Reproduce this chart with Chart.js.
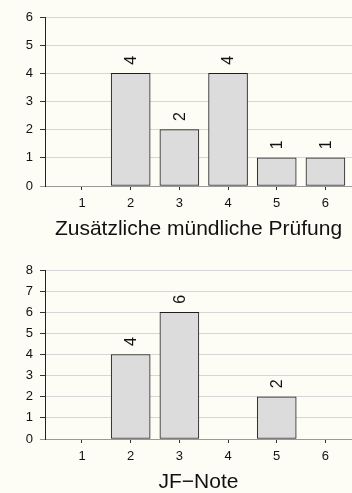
<!DOCTYPE html>
<html>
<head>
<meta charset="utf-8">
<script src="https://cdn.jsdelivr.net/npm/chart.js@4/dist/chart.umd.min.js"></script>
<style>
  html, body { margin: 0; padding: 0; background: #fdfdf6; }
  body { width: 352px; height: 493px; position: relative; overflow: hidden; }
  .box { position: absolute; left: 0; width: 352px; }
  #box-top { top: 0; height: 242px; }
  #box-bottom { top: 246px; height: 249px; }
</style>
</head>
<body>
<div class="box" id="box-top"><canvas id="chart-top"></canvas></div>
<div class="box" id="box-bottom"><canvas id="chart-bottom"></canvas></div>
<script>
// Grades 1..6 and how often each occurred
const grades = [1, 2, 3, 4, 5, 6];
const oralCounts = [null, 4, 2, 4, 1, 1];
const jfCounts = [null, 4, 6, null, 2, null];
const oralTicks = [0, 1, 2, 3, 4, 5, 6];
const jfTicks = [0, 1, 2, 3, 4, 5, 6, 7, 8];

const FONT = "'Liberation Sans', Arial, Helvetica, sans-serif";

// Rotated count above each bar
const countLabels = {
  id: 'countLabels',
  afterDatasetsDraw(chart) {
    const ctx = chart.ctx;
    const xs = chart.scales.x;
    const ys = chart.scales.y;
    chart.data.datasets[0].data.forEach(p => {
      if (p.y == null) return;
      const px = xs.getPixelForValue(p.x);
      const py = ys.getPixelForValue(p.y) - 13;
      ctx.save();
      ctx.translate(px, py);
      ctx.rotate(-Math.PI / 2);
      ctx.font = '16px ' + FONT;
      ctx.fillStyle = '#111';
      ctx.textAlign = 'center';
      ctx.textBaseline = 'middle';
      ctx.fillText(String(p.y), 0, 1);
      ctx.restore();
    });
  }
};

function makeChart(canvasId, counts, yTicks, title, padTop) {
  const points = grades.map((g, i) => ({ x: g, y: counts[i] }));
  const yMax = yTicks[yTicks.length - 1];
  return new Chart(document.getElementById(canvasId), {
    type: 'bar',
    data: {
      datasets: [{
        data: points,
        backgroundColor: '#dcdcdc',
        borderColor: '#1e1e1e',
        borderWidth: 1,
        borderSkipped: false,
        barThickness: 39
      }]
    },
    plugins: [countLabels],
    options: {
      responsive: true,
      maintainAspectRatio: false,
      animation: false,
      layout: { padding: { top: padTop, left: 0, right: 0, bottom: 0 } },
      plugins: {
        legend: { display: false },
        tooltip: { enabled: false }
      },
      scales: {
        x: {
          type: 'linear',
          offset: false,
          min: 0.24,
          max: 6.546,
          afterBuildTicks: scale => {
            scale.ticks = grades.map(g => ({ value: g }));
          },
          afterFit: scale => { scale.height = 56; },
          grid: {
            offset: false,
            drawOnChartArea: false,
            drawTicks: true,
            tickLength: 4,
            tickColor: '#333'
          },
          border: { display: true, color: '#999', width: 1 },
          ticks: {
            padding: 6,
            color: '#111',
            font: { family: FONT, size: 13 }
          },
          title: {
            display: true,
            text: title,
            color: '#111',
            font: { family: FONT, size: 21 },
            padding: { top: 2, bottom: 0 }
          }
        },
        y: {
          min: 0,
          max: yMax,
          afterBuildTicks: scale => {
            scale.ticks = yTicks.map(v => ({ value: v }));
          },
          afterFit: scale => { scale.width = 45; },
          grid: {
            color: ctx => (ctx.tick && ctx.tick.value === 0 ? '#999' : '#d6d6d6'),
            tickColor: ctx => (ctx.tick && ctx.tick.value === 0 ? '#999' : '#333'),
            tickLength: 5
          },
          border: { display: true, color: '#222', width: 1 },
          ticks: {
            padding: 7,
            color: '#111',
            font: { family: FONT, size: 13 }
          }
        }
      }
    }
  });
}

makeChart('chart-top', oralCounts, oralTicks, 'Zusätzliche mündliche Prüfung', 17);
makeChart('chart-bottom', jfCounts, jfTicks, 'JF\u2212Note', 24);
</script>
</body>
</html>
